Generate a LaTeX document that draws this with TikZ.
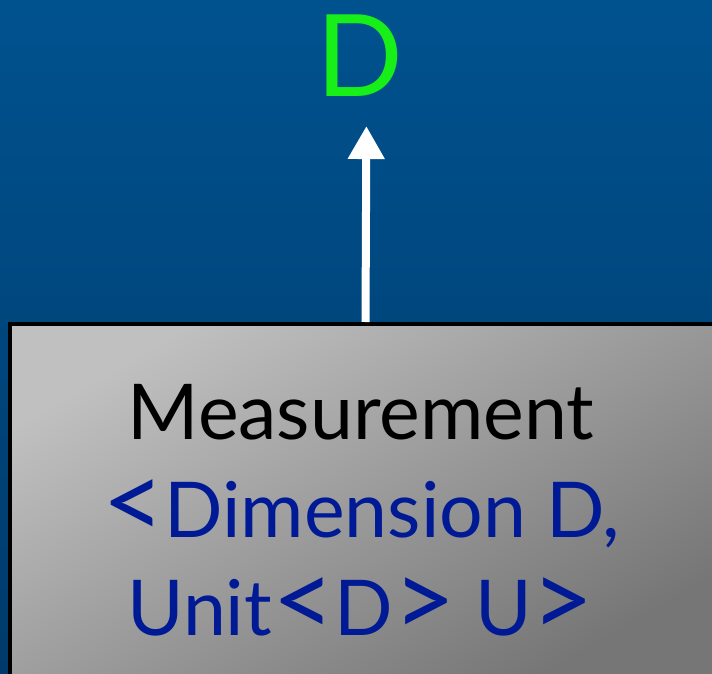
\documentclass[tikz,border=0pt]{standalone}
\usepackage{fontspec}
\usepackage{graphicx}
\setmainfont{Lato}
\usetikzlibrary{arrows.meta,positioning}
\definecolor{bgtop}{RGB}{0,82,143}
\definecolor{bgbot}{RGB}{0,58,107}
\definecolor{boxlt}{RGB}{192,192,192}
\definecolor{boxdk}{RGB}{118,118,118}
\definecolor{typblue}{RGB}{0,26,150}
\definecolor{dimgreen}{RGB}{24,238,24}
\newcommand{\ltsym}{\raisebox{-2pt}{\scalebox{1.4}{<}}}
\newcommand{\gtsym}{\raisebox{-2pt}{\scalebox{1.4}{>}}}
\tikzset{classbox/.style={draw=black,line width=4pt,top color=boxlt,bottom color=boxdk,shading angle=30,
    minimum width=706pt,minimum height=354pt},
  classtext/.style={align=center,font=\fontsize{77}{98}\selectfont},
  typarg/.style={font=\fontsize{114}{114}\selectfont,text=dimgreen,inner sep=2pt},
  link/.style={draw=white,line width=8pt,-{Triangle[length=33pt,width=35pt]}}}
\begin{document}
\begin{tikzpicture}[x=1pt,y=-1pt]
\clip (0,0) rectangle (712,674);
\fill[top color=bgtop,bottom color=bgbot] (0,0) rectangle (712,674);
\node[classbox,anchor=north west] (meas) at (8,322) {};
\node[classtext] (measname) at ([xshift=-2pt,yshift=-9.5pt]meas.center) {Measurement\\
  \textcolor{typblue}{\ltsym Dimension D,}\\ \textcolor{typblue}{Unit\ltsym D\gtsym{} U\gtsym}};
\node[typarg] (dim) at (360,56) {D};
\draw[link,shorten >=27pt] ([xshift=2.5pt]meas.north) -- ([xshift=6.5pt]dim.south);
\end{tikzpicture}
\end{document}
